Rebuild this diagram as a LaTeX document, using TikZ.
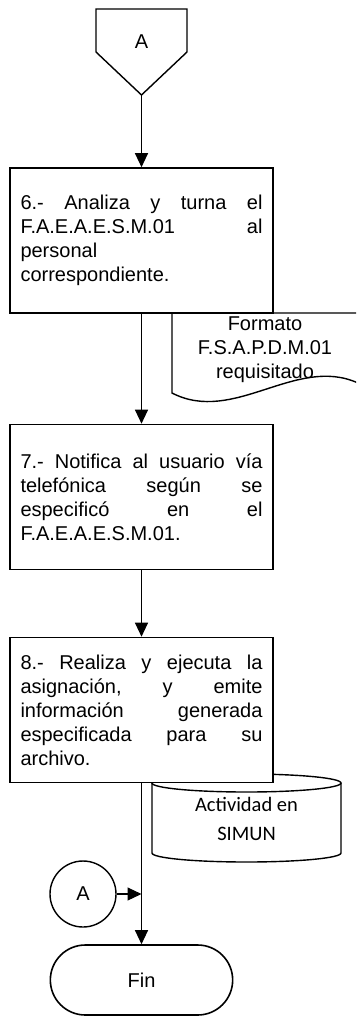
\documentclass[tikz,border=0pt]{standalone}
\usepackage{fontspec}
\setmainfont{Liberation Sans}
\newfontfamily\calib{Carlito}
\usetikzlibrary{arrows.meta,shapes.misc}
\tikzset{
  txt/.style={font=\fontsize{20}{24}\selectfont},
  procbox/.style={draw, line width=1.6pt, fill=white, minimum width=263pt, minimum height=145pt,
    text width=242pt, inner xsep=10.5pt, align=left, txt},
  conn/.style={line width=1.1pt, -{Triangle[length=14pt,width=13pt]}},
  shp/.style={line width=1.4pt},
}
\begin{document}
\begin{tikzpicture}[x=1pt,y=-1pt]
\clip (0,0) rectangle (356,1017);
\fill[white] (0,0) rectangle (356,1017);
% off-page connector
\draw[shp, fill=white] (96,9) -- (187,9) -- (187,52) -- (141.5,95) -- (96,52) -- cycle;
\node[txt] (pa) at (141.5,42) {A};
\coordinate (ptip) at (141.5,95);
% document shape
\draw[shp, fill=white] (172,313) -- (358,313) -- (358,383)
   .. controls (296,355) and (234,425) .. (172,393) -- cycle;
\node[txt, align=center] (doc) at (265,349.5) {Formato\\F.S.A.P.D.M.01\\requisitado};
% cylinder
\draw[shp, fill=white] (152,783) -- (152,853)
   .. controls (152,858) and (194.3,862) .. (246.5,862)
   .. controls (298.7,862) and (341,858) .. (341,853) -- (341,783);
\draw[shp, fill=white] (246.5,783) ellipse [x radius=94.5pt, y radius=9pt];
\node[font=\calib\fontsize{20.5}{29}\selectfont, align=center] (cyl) at (246.5,818.5) {Actividad en\\SIMUN};
% process boxes
\node[procbox] (b1) at (141.5,240.5) {6.-\hfill Analiza\hfill y\hfill turna\hfill el\\
F.A.E.A.E.S.M.01\hfill al\\
personal\\
correspondiente.};
\node[procbox] (b2) at (141.5,497) {7.-\hfill Notifica\hfill al\hfill usuario\hfill vía\\
telefónica\hfill según\hfill se\\
especificó\hfill en\hfill el\\
F.A.E.A.E.S.M.01.};
\node[procbox] (b3) at (141.5,710) {8.-\hfill Realiza\hfill y\hfill ejecuta\hfill la\\
asignación,\hfill y\hfill emite\\
información\hfill generada\\
especificada\hfill para\hfill su\\
archivo.};
% connector circle
\node[draw, shp, circle, minimum size=66pt, inner sep=0pt, txt] (ca) at (83,894) {A};
\coordinate (j) at (141.5,894);
% terminal
\node[draw, line width=1.6pt, rounded rectangle, minimum width=189pt, minimum height=70pt, txt] (fin) at (141.5,980) {Fin};
% connectors
\draw[conn] (ptip) -- (b1.north);
\draw[conn] (b1.south) -- (b2.north);
\draw[conn] (b2.south) -- (b3.north);
\draw[conn] (b3.south) -- (fin.north);
\draw[conn] (ca.east) -- (j);
\end{tikzpicture}
\end{document}
